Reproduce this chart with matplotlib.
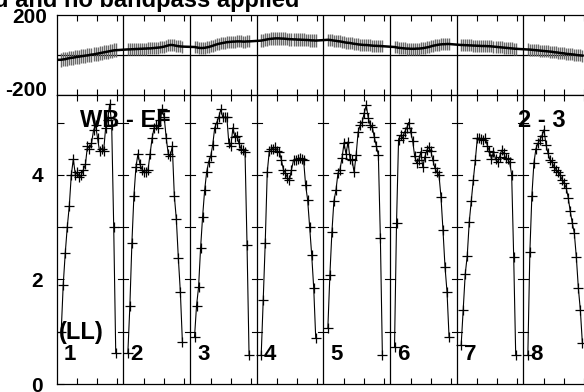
import numpy as np
import matplotlib
matplotlib.use("Agg")
import matplotlib.pyplot as plt

plt.rcParams['font.family'] = ['Liberation Sans', 'DejaVu Sans']

# amplitudes per IF (28 channels each)
amp_1 = [1.0, 1.9, 2.5, 3.0, 3.4, 4.0, 4.3, 4.0, 4.05, 3.95, 4.0, 4.1, 4.2, 4.55, 4.5, 4.6, 4.85, 4.95, 4.7, 4.45, 4.5, 4.45, 4.9, 5.05, 5.35, 4.95, 3.0, 0.6]
amp_2 = [0.6, 1.5, 2.7, 3.6, 4.15, 4.4, 4.2, 4.1, 4.05, 4.05, 4.1, 4.4, 4.7, 4.9, 4.95, 4.9, 5.05, 5.25, 5.1, 4.7, 4.4, 4.35, 4.55, 3.6, 3.15, 2.4, 1.75, 0.8]
amp_3 = [0.9, 1.5, 1.85, 2.6, 3.2, 3.7, 4.05, 4.25, 4.35, 4.57, 4.9, 5.0, 5.1, 5.25, 5.1, 5.1, 5.1, 4.6, 4.55, 4.9, 4.72, 4.75, 4.6, 4.5, 4.47, 4.44, 2.65, 0.55]
amp_4 = [0.55, 1.6, 2.7, 4.05, 4.45, 4.5, 4.5, 4.53, 4.45, 4.44, 4.28, 4.1, 4.03, 3.94, 3.9, 4.1, 4.28, 4.28, 4.3, 4.32, 4.3, 4.28, 3.8, 3.52, 3.0, 2.47, 1.84, 0.88]
amp_5 = [1.07, 2.08, 2.9, 3.5, 3.7, 4.03, 4.1, 4.32, 4.6, 4.4, 4.63, 4.3, 4.28, 4.05, 4.38, 4.82, 4.95, 5.01, 5.18, 5.33, 5.09, 4.95, 4.91, 4.72, 4.55, 4.38, 2.8, 0.55]
amp_6 = [0.7, 3.08, 4.67, 4.76, 4.7, 4.82, 4.89, 5.0, 4.82, 4.65, 4.35, 4.22, 4.28, 4.44, 4.15, 4.34, 4.47, 4.53, 4.45, 4.28, 4.13, 4.05, 4.0, 3.58, 2.94, 2.24, 1.76, 0.9]
amp_7 = [0.75, 1.42, 2.1, 2.45, 3.1, 3.5, 3.9, 4.28, 4.7, 4.7, 4.68, 4.67, 4.7, 4.55, 4.45, 4.3, 4.44, 4.3, 4.24, 4.34, 4.47, 4.42, 4.32, 4.3, 4.24, 4.0, 2.43, 0.55]
amp_8 = [0.55, 2.52, 3.6, 4.22, 4.5, 4.6, 4.67, 4.75, 4.86, 4.57, 4.41, 4.28, 4.24, 4.15, 4.1, 4.05, 4.0, 3.9, 3.84, 3.75, 3.56, 3.3, 3.08, 2.89, 2.43, 1.84, 1.41, 0.78]

# phases per IF (degrees)
phase_1 = [-24, -22, -21, -18, -16, -14, -13, -11, -9, -8, -6, -5, -3, -2, 0, 2, 3, 5, 7, 9, 11, 13, 15, 17, 19, 21, 23, 24]
phase_2 = [28, 28, 29, 29, 30, 30, 31, 31, 32, 32, 33, 33, 34, 35, 36, 37, 38, 40, 42, 45, 48, 50, 50, 48, 46, 44, 43, 42]
phase_3 = [40, 38, 36, 35, 35, 36, 38, 40, 43, 46, 50, 53, 56, 58, 60, 62, 64, 65, 66, 67, 67, 68, 68, 68, 67, 67, 68, 68]
phase_4 = [72, 74, 76, 78, 80, 81, 82, 83, 83, 83, 82, 82, 81, 80, 79, 79, 78, 78, 77, 77, 76, 76, 75, 75, 74, 73, 73, 72]
phase_5 = [76, 75, 74, 72, 71, 69, 68, 66, 64, 62, 61, 60, 58, 56, 55, 53, 52, 51, 50, 50, 49, 48, 47, 46, 46, 45, 45, 44]
phase_6 = [40, 38, 36, 35, 34, 33, 32, 32, 31, 31, 31, 32, 32, 33, 34, 36, 38, 40, 43, 46, 48, 50, 52, 53, 54, 54, 55, 55]
phase_7 = [50, 50, 49, 49, 48, 48, 47, 47, 46, 46, 45, 45, 45, 44, 44, 43, 42, 41, 40, 39, 38, 37, 36, 35, 34, 33, 32, 31]
phase_8 = [28, 27, 26, 25, 24, 23, 22, 21, 20, 19, 18, 17, 16, 14, 13, 12, 10, 9, 8, 6, 5, 4, 3, 2, 0, -1, -2, -3]
phase_err = [35, 30, 30, 32, 30, 30, 30, 30]

if_labels = ['1', '2', '3', '4', '5', '6', '7', '8']
baseline_label = 'WB - EF'
pol_label = '(LL)'
source_label = '2 - 3'
title = 'd and no bandpass applied'

amps = [amp_1, amp_2, amp_3, amp_4, amp_5, amp_6, amp_7, amp_8]
phases = [phase_1, phase_2, phase_3, phase_4, phase_5, phase_6, phase_7, phase_8]

W, H = 584, 392
fig = plt.figure(figsize=(W / 100, H / 100), dpi=100)
left = 56.7 / W
xmax = (W - 56.7) / 66.67
ax_ph = fig.add_axes([left, 297 / H, 1 - left, 80 / H])
ax_amp = fig.add_axes([left, 8 / H, 1 - left, 289 / H])

nch = len(amp_1)
chan = np.arange(nch)
xs = [k + 0.0675 + chan * 0.0303 for k in range(len(amps))]

# phase panel
ax_ph.axhline(0, color='black', lw=0.9)
for k in range(len(phases)):
    p = np.array(phases[k])
    ax_ph.vlines(xs[k], p - phase_err[k], p + phase_err[k], color='#6a6a6a', lw=1.0)
allx = np.concatenate(xs)
allp = np.concatenate(phases)
ax_ph.plot(np.r_[0, allx], np.r_[allp[0], allp], color='black', lw=1.8)

# amplitude panel
for k in range(len(amps)):
    ax_amp.plot(xs[k], amps[k], color='black', lw=0.8, marker='+', ms=7.5, mew=0.9)

for ax in (ax_ph, ax_amp):
    ax.set_xlim(0, xmax)
    for k in range(1, 8):
        ax.axvline(k, color='black', lw=0.9)
    ax.spines['right'].set_visible(False)
    ticks = [k + f for k in range(8) for f in (0.31, 0.61, 0.91)]
    ax.set_xticks(ticks)
    ax.set_xticklabels([])
    ax.tick_params(axis='x', direction='in', top=True, bottom=True, length=4, width=0.8)
    for s in ax.spines.values():
        s.set_linewidth(0.9)

ax_ph.set_ylim(-200, 200)
ax_ph.set_yticks([])
ax_ph.text(-0.14, 200 - 2.5 * 5, '200', ha='right', va='center',
           fontsize=15, fontweight='bold')
ax_ph.text(-0.14, -200 + 5 * 5, '-200', ha='right', va='center',
           fontsize=15, fontweight='bold', clip_on=False)

ax_amp.set_ylim(0, 289 / 52.3)
ax_amp.set_yticks([0, 1, 2, 3, 4, 5])
ax_amp.set_yticklabels(['0', '', '2', '', '4', ''], fontsize=15, fontweight='bold')
ax_amp.tick_params(axis='y', direction='in', length=5, width=0.8, pad=10)

# small level ticks on the IF separators
for k in range(1, 8):
    for lv in range(1, 6):
        ax_amp.plot([k - 0.075, k + 0.075], [lv, lv], color='black', lw=0.8)

ax_amp.text(0.35, 5.03, baseline_label, fontsize=17, fontweight='bold', va='center', ha='left')
ax_amp.text(6.92, 5.03, source_label, fontsize=17, fontweight='bold', va='center', ha='left')
ax_amp.text(0.035, 0.99, pol_label, fontsize=17, fontweight='bold', va='center', ha='left')
for k, lab in enumerate(if_labels):
    ax_amp.text(k + 0.11, 0.555, lab, fontsize=16, fontweight='bold', va='center', ha='left')

fig.text(-6 / W, (H - 7) / H, title, fontsize=17, fontweight='bold', va='baseline', ha='left')

fig.savefig('out.png', dpi=100)
